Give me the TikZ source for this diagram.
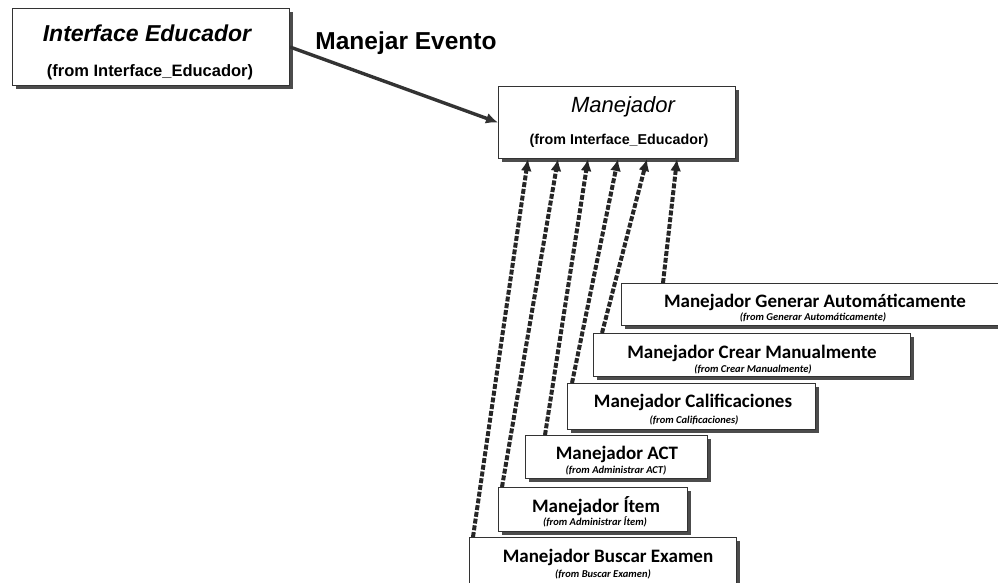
\documentclass[tikz,border=0pt]{standalone}
\usepackage{fontspec}
\setmainfont{Liberation Sans}
\newfontfamily\calfont{Carlito}
\usetikzlibrary{arrows.meta,shadows,calc}

\tikzset{
  box/.style={draw=black!80, line width=1pt, fill=white, anchor=north west, inner sep=0pt,
    drop shadow={shadow xshift=3pt, shadow yshift=-3pt, opacity=1, fill=black!70}},
  bigtitle/.style={font=\fontsize{23}{26}\selectfont\bfseries\itshape, inner sep=0pt},
  midtitle/.style={font=\fontsize{22}{24}\selectfont\itshape, inner sep=0pt},
  bigsub/.style={font=\fontsize{16.5}{18}\selectfont\bfseries, inner sep=0pt},
  ttl/.style={font=\calfont\fontsize{19}{22}\selectfont\bfseries, inner sep=0pt},
  subttl/.style={font=\calfont\fontsize{10.5}{12}\selectfont\bfseries\itshape, inner sep=0pt},
  evlabel/.style={font=\fontsize{24.5}{27}\selectfont\bfseries, inner sep=0pt},
  dep/.style={draw=black!85, line width=4pt, dash pattern=on 5pt off 1.8pt,
    -{Latex[length=12pt,width=11pt]}},
  assoc/.style={draw=black!80, line width=3.4pt, -{Latex[length=12pt,width=11pt]}},
}

\begin{document}
\begin{tikzpicture}[x=1pt,y=-1pt]
\useasboundingbox (0,0) rectangle (998,582);
\clip (0,0) rectangle (998,582);

% boxes
\node[box, minimum width=277pt, minimum height=77pt] (ie) at (12,8) {};
\node[box, minimum width=237pt, minimum height=72pt] (man) at (498,86) {};
\node[box, minimum width=390pt, minimum height=42pt] (gen) at (621,283) {};
\node[box, minimum width=317pt, minimum height=43pt] (cre) at (593,333) {};
\node[box, minimum width=248pt, minimum height=46pt] (cal) at (567,383) {};
\node[box, minimum width=182pt, minimum height=43pt] (act) at (525,435) {};
\node[box, minimum width=189pt, minimum height=44pt] (item) at (498,487) {};
\node[box, minimum width=267pt, minimum height=60pt] (bus) at (469,537) {};

% texts
\node[bigtitle] (ieT) at ($(ie.north)+(-4,25)$) {Interface Educador};
\node[bigsub] (ieS) at ($(ie.north)+(-1,64)$) {(from Interface\_Educador)};
\node[midtitle] (manT) at ($(man.north)+(6,21)$) {Manejador};
\node[bigsub, font=\fontsize{14.3}{16}\selectfont\bfseries] (manS) at ($(man.north)+(2,55)$) {(from Interface\_Educador)};

\node[ttl] (genT) at (815,302) {Manejador Generar Automáticamente};
\node[subttl] (genS) at (813,317) {(from Generar Automáticamente)};
\node[ttl] (creT) at (752,353) {Manejador Crear Manualmente};
\node[subttl] (creS) at (753,369) {(from Crear Manualmente)};
\node[ttl] (calT) at (693,402) {Manejador Calificaciones};
\node[subttl] (calS) at (694,420) {(from Calificaciones)};
\node[ttl] (actT) at (617,454) {Manejador ACT};
\node[subttl] (actS) at (616,470) {(from Administrar ACT)};
\node[ttl] (itemT) at (596,506) {Manejador Ítem};
\node[subttl] (itemS) at (595,522) {(from Administrar Ítem)};
\node[ttl] (busT) at (608,557) {Manejador Buscar Examen};
\node[subttl] (busS) at (603,574) {(from Buscar Examen)};

% association
\draw[assoc] (ie.east) -- (man.west);
\node[evlabel] (ev) at (406,43) {Manejar Evento};

% dependencies
\draw[dep] ([xshift=4pt]bus.north west) -- ([xshift=30pt]man.south west);
\draw[dep] ([xshift=4pt]item.north west) -- ([xshift=60pt]man.south west);
\draw[dep] ([xshift=20pt]act.north west) -- ([xshift=90pt]man.south west);
\draw[dep] ([xshift=5pt]cal.north west) -- ([xshift=120pt]man.south west);
\draw[dep] ([xshift=9pt]cre.north west) -- ([xshift=149pt]man.south west);
\draw[dep] ([xshift=42pt]gen.north west) -- ([xshift=179pt]man.south west);
\end{tikzpicture}
\end{document}
